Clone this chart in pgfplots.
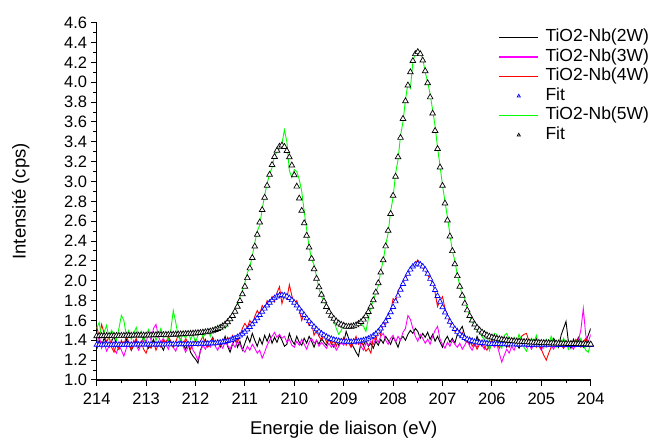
\documentclass[border=0pt]{standalone}
\usepackage{fontspec}
\setmainfont{Liberation Sans}
\usepackage{pgfplots}
\pgfplotsset{compat=1.18}
\definecolor{mygreen}{RGB}{0,255,0}
\definecolor{mymag}{RGB}{255,0,255}
\definecolor{myred}{RGB}{255,0,0}
\definecolor{myblue}{RGB}{0,0,255}
\pgfplotsset{
  lineleg/.style={legend image code/.code={\color{#1}\draw[##1, draw=#1, line width=1.5pt] (0pt,0pt) -- (39pt,0pt);}},
  markleg/.style={legend image code/.code={\color{#1}\draw[##1,only marks,mark size=1.8pt] plot coordinates {(19.5pt,0pt)};}},
}
\begin{document}
\begin{tikzpicture}[x=1pt,y=1pt]
\useasboundingbox (0,0) rectangle (655,441);
\begin{axis}[
  at={(96.7pt,61pt)}, anchor=south west,
  scale only axis, width=494pt, height=357.3pt,
  x dir=reverse, xmin=204, xmax=214, ymin=1.0, ymax=4.6,
  axis x line*=bottom, axis y line*=left,
  axis line style={line width=1.1pt},
  xtick={204,205,206,207,208,209,210,211,212,213,214},
  ytick={1,1.2,1.4,1.6,1.8,2,2.2,2.4,2.6,2.8,3,3.2,3.4,3.6,3.8,4,4.2,4.4,4.6},
  minor x tick num=1, minor y tick num=1,
  tick align=outside,
  major tick length=6pt, minor tick length=3.5pt,
  tick style={black, line width=1pt},
  /pgf/number format/assume math mode=true,
  yticklabel style={/pgf/number format/.cd, fixed, fixed zerofill, precision=1},
  xticklabel style={yshift=-3.5pt},
  tick label style={font=\fontsize{16.5}{18}\selectfont},
  xlabel={Energie de liaison (eV)},
  ylabel={Intensité (cps)},
  xlabel style={font=\fontsize{18.5}{21}\selectfont, at={(axis description cs:0.5,0)}, anchor=base, yshift=-54pt},
  ylabel style={font=\fontsize{18.5}{21}\selectfont, at={(axis description cs:-0.154,0.5)}, anchor=center},
  legend style={draw=none, fill=none, at={(axis description cs:0.813,0.9826)}, anchor=north west,
    font=\fontsize{17.5}{20}\selectfont, inner sep=0pt, row sep=2.7pt,
    nodes={inner xsep=3.5pt, inner ysep=0pt, text height=12.8pt, text depth=4pt},
    /tikz/every odd column/.append style={column sep=3pt}},
  legend cell align=left,
]
\addplot[color=black, line width=0.9pt, lineleg=black] coordinates {
(214,1.31)(213.95,1.40)(213.9,1.35)(213.85,1.42)(213.8,1.37)(213.75,1.33)(213.7,1.39)(213.65,1.44)(213.6,1.36)(213.55,1.31)(213.5,1.38)(213.45,1.34)(213.4,1.41)(213.35,1.36)(213.3,1.30)(213.25,1.35)(213.2,1.40)(213.15,1.33)(213.1,1.38)(213.05,1.43)(213,1.37)(212.95,1.32)(212.9,1.36)(212.85,1.41)(212.8,1.34)(212.75,1.39)(212.7,1.35)(212.65,1.30)(212.6,1.37)(212.55,1.42)(212.5,1.36)(212.45,1.33)(212.4,1.38)(212.35,1.34)(212.3,1.40)(212.25,1.36)(212.2,1.31)(212.15,1.37)(212.1,1.28)(212.05,1.24)(212,1.21)(211.95,1.17)(211.9,1.30)(211.85,1.36)(211.8,1.41)(211.75,1.34)(211.7,1.38)(211.65,1.43)(211.6,1.35)(211.55,1.40)(211.5,1.33)(211.45,1.38)(211.4,1.44)(211.35,1.34)(211.3,1.28)(211.25,1.36)(211.2,1.42)(211.15,1.33)(211.1,1.39)(211.05,1.30)(211,1.37)(210.95,1.44)(210.9,1.38)(210.85,1.47)(210.8,1.40)(210.75,1.34)(210.7,1.42)(210.65,1.36)(210.6,1.45)(210.55,1.39)(210.5,1.46)(210.45,1.37)(210.4,1.43)(210.35,1.38)(210.3,1.45)(210.25,1.40)(210.2,1.34)(210.15,1.36)(210.1,1.47)(210.05,1.40)(210,1.36)(209.95,1.44)(209.9,1.38)(209.85,1.35)(209.8,1.42)(209.75,1.37)(209.7,1.44)(209.65,1.39)(209.6,1.33)(209.55,1.40)(209.5,1.36)(209.45,1.42)(209.4,1.38)(209.35,1.35)(209.3,1.41)(209.25,1.37)(209.2,1.33)(209.15,1.39)(209.1,1.35)(209.05,1.41)(209,1.38)(208.95,1.49)(208.9,1.42)(208.85,1.37)(208.8,1.33)(208.75,1.28)(208.7,1.24)(208.65,1.38)(208.6,1.35)(208.55,1.40)(208.5,1.34)(208.45,1.37)(208.4,1.32)(208.35,1.39)(208.3,1.35)(208.25,1.41)(208.2,1.37)(208.15,1.44)(208.1,1.40)(208.05,1.36)(208,1.43)(207.95,1.39)(207.9,1.33)(207.85,1.41)(207.8,1.44)(207.75,1.40)(207.7,1.46)(207.65,1.50)(207.6,1.47)(207.55,1.52)(207.5,1.49)(207.45,1.42)(207.4,1.47)(207.35,1.43)(207.3,1.48)(207.25,1.41)(207.2,1.46)(207.15,1.39)(207.1,1.44)(207.05,1.38)(207,1.33)(206.95,1.40)(206.9,1.44)(206.85,1.38)(206.8,1.42)(206.75,1.37)(206.7,1.46)(206.65,1.50)(206.6,1.54)(206.55,1.45)(206.5,1.39)(206.45,1.36)(206.4,1.42)(206.35,1.35)(206.3,1.44)(206.25,1.38)(206.2,1.34)(206.15,1.40)(206.1,1.36)(206.05,1.31)(206,1.38)(205.95,1.34)(205.9,1.39)(205.85,1.35)(205.8,1.41)(205.75,1.37)(205.7,1.33)(205.65,1.38)(205.6,1.34)(205.55,1.40)(205.5,1.36)(205.45,1.32)(205.4,1.37)(205.35,1.41)(205.3,1.35)(205.25,1.39)(205.2,1.33)(205.15,1.37)(205.1,1.42)(205.05,1.36)(205,1.31)(204.95,1.37)(204.9,1.34)(204.85,1.40)(204.8,1.36)(204.75,1.42)(204.7,1.38)(204.65,1.33)(204.6,1.45)(204.55,1.52)(204.5,1.59)(204.45,1.38)(204.4,1.32)(204.35,1.41)(204.3,1.36)(204.25,1.43)(204.2,1.37)(204.15,1.33)(204.1,1.39)(204.05,1.45)(204,1.52)
};
\addlegendentry{TiO2-Nb(2W)}
\addplot[color=mymag, line width=0.9pt, lineleg=mymag] coordinates {
(214,1.36)(213.95,1.45)(213.9,1.32)(213.85,1.38)(213.8,1.29)(213.75,1.34)(213.7,1.40)(213.65,1.31)(213.6,1.27)(213.55,1.35)(213.5,1.30)(213.45,1.24)(213.4,1.32)(213.35,1.37)(213.3,1.33)(213.25,1.40)(213.2,1.35)(213.15,1.30)(213.1,1.36)(213.05,1.42)(213,1.38)(212.95,1.47)(212.9,1.40)(212.85,1.52)(212.8,1.56)(212.75,1.44)(212.7,1.38)(212.65,1.42)(212.6,1.36)(212.55,1.31)(212.5,1.38)(212.45,1.33)(212.4,1.29)(212.35,1.36)(212.3,1.41)(212.25,1.34)(212.2,1.28)(212.15,1.33)(212.1,1.38)(212.05,1.30)(212,1.26)(211.95,1.20)(211.9,1.29)(211.85,1.35)(211.8,1.31)(211.75,1.37)(211.7,1.33)(211.65,1.39)(211.6,1.34)(211.55,1.30)(211.5,1.36)(211.45,1.32)(211.4,1.38)(211.35,1.35)(211.3,1.31)(211.25,1.37)(211.2,1.33)(211.15,1.39)(211.1,1.35)(211.05,1.31)(211,1.28)(210.95,1.34)(210.9,1.30)(210.85,1.36)(210.8,1.32)(210.75,1.27)(210.7,1.30)(210.65,1.22)(210.6,1.28)(210.55,1.35)(210.5,1.40)(210.45,1.44)(210.4,1.48)(210.35,1.43)(210.3,1.46)(210.25,1.42)(210.2,1.44)(210.15,1.38)(210.1,1.41)(210.05,1.35)(210,1.33)(209.95,1.39)(209.9,1.35)(209.85,1.41)(209.8,1.36)(209.75,1.31)(209.7,1.38)(209.65,1.42)(209.6,1.37)(209.55,1.40)(209.5,1.34)(209.45,1.38)(209.4,1.35)(209.35,1.32)(209.3,1.37)(209.25,1.33)(209.2,1.36)(209.15,1.30)(209.1,1.34)(209.05,1.38)(209,1.35)(208.95,1.40)(208.9,1.37)(208.85,1.33)(208.8,1.39)(208.75,1.36)(208.7,1.41)(208.65,1.34)(208.6,1.30)(208.55,1.37)(208.5,1.35)(208.45,1.39)(208.4,1.36)(208.35,1.42)(208.3,1.38)(208.25,1.44)(208.2,1.47)(208.15,1.40)(208.1,1.36)(208.05,1.42)(208,1.45)(207.95,1.38)(207.9,1.44)(207.85,1.40)(207.8,1.48)(207.75,1.52)(207.7,1.65)(207.65,1.61)(207.6,1.52)(207.55,1.44)(207.5,1.39)(207.45,1.46)(207.4,1.42)(207.35,1.37)(207.3,1.41)(207.25,1.36)(207.2,1.44)(207.15,1.50)(207.1,1.54)(207.05,1.41)(207,1.36)(206.95,1.32)(206.9,1.38)(206.85,1.34)(206.8,1.40)(206.75,1.36)(206.7,1.33)(206.65,1.37)(206.6,1.31)(206.55,1.35)(206.5,1.40)(206.45,1.34)(206.4,1.30)(206.35,1.36)(206.3,1.33)(206.25,1.38)(206.2,1.35)(206.15,1.31)(206.1,1.37)(206.05,1.34)(206,1.39)(205.95,1.33)(205.9,1.36)(205.85,1.27)(205.8,1.18)(205.75,1.25)(205.7,1.31)(205.65,1.27)(205.6,1.34)(205.55,1.30)(205.5,1.37)(205.45,1.41)(205.4,1.35)(205.35,1.39)(205.3,1.33)(205.25,1.37)(205.2,1.31)(205.15,1.36)(205.1,1.40)(205.05,1.34)(205,1.30)(204.95,1.36)(204.9,1.33)(204.85,1.39)(204.8,1.35)(204.75,1.31)(204.7,1.37)(204.65,1.34)(204.6,1.38)(204.55,1.32)(204.5,1.36)(204.45,1.33)(204.4,1.35)(204.35,1.31)(204.3,1.36)(204.25,1.40)(204.2,1.50)(204.15,1.72)(204.1,1.45)(204.05,1.38)(204,1.46)
};
\addlegendentry{TiO2-Nb(3W)}
\addplot[color=myred, line width=0.9pt, lineleg=myred] coordinates {
(214,1.54)(213.95,1.43)(213.9,1.56)(213.85,1.47)(213.8,1.38)(213.75,1.44)(213.7,1.33)(213.65,1.28)(213.6,1.36)(213.55,1.31)(213.5,1.40)(213.45,1.35)(213.4,1.44)(213.35,1.38)(213.3,1.30)(213.25,1.36)(213.2,1.42)(213.15,1.34)(213.1,1.39)(213.05,1.31)(213,1.27)(212.95,1.35)(212.9,1.32)(212.85,1.38)(212.8,1.30)(212.75,1.36)(212.7,1.33)(212.65,1.41)(212.6,1.37)(212.55,1.44)(212.5,1.39)(212.45,1.33)(212.4,1.38)(212.35,1.46)(212.3,1.40)(212.25,1.35)(212.2,1.42)(212.15,1.37)(212.1,1.31)(212.05,1.36)(212,1.40)(211.95,1.34)(211.9,1.39)(211.85,1.44)(211.8,1.36)(211.75,1.33)(211.7,1.38)(211.65,1.42)(211.6,1.36)(211.55,1.40)(211.5,1.35)(211.45,1.41)(211.4,1.37)(211.35,1.43)(211.3,1.39)(211.25,1.45)(211.2,1.41)(211.15,1.38)(211.1,1.45)(211.05,1.52)(211,1.57)(210.95,1.53)(210.9,1.60)(210.85,1.56)(210.8,1.64)(210.75,1.70)(210.7,1.66)(210.65,1.75)(210.6,1.71)(210.55,1.80)(210.5,1.76)(210.45,1.84)(210.4,1.79)(210.35,1.88)(210.3,1.94)(210.25,1.77)(210.2,1.86)(210.15,1.82)(210.1,1.96)(210.05,1.85)(210,1.77)(209.95,1.80)(209.9,1.72)(209.85,1.60)(209.8,1.67)(209.75,1.62)(209.7,1.55)(209.65,1.58)(209.6,1.45)(209.55,1.50)(209.5,1.44)(209.45,1.40)(209.4,1.46)(209.35,1.38)(209.3,1.42)(209.25,1.36)(209.2,1.40)(209.15,1.34)(209.1,1.41)(209.05,1.37)(209,1.43)(208.95,1.35)(208.9,1.40)(208.85,1.33)(208.8,1.38)(208.75,1.44)(208.7,1.36)(208.65,1.40)(208.6,1.34)(208.55,1.29)(208.5,1.32)(208.45,1.27)(208.4,1.43)(208.35,1.40)(208.3,1.49)(208.25,1.45)(208.2,1.58)(208.15,1.56)(208.1,1.66)(208.05,1.69)(208,1.82)(207.95,1.79)(207.9,1.90)(207.85,1.94)(207.8,1.97)(207.75,2.04)(207.7,2.06)(207.65,2.12)(207.6,2.15)(207.55,2.17)(207.5,2.21)(207.45,2.17)(207.4,2.13)(207.35,2.10)(207.3,2.06)(207.25,2.01)(207.2,1.98)(207.15,1.88)(207.1,1.74)(207.05,1.80)(207,1.84)(206.95,1.72)(206.9,1.66)(206.85,1.57)(206.8,1.55)(206.75,1.49)(206.7,1.52)(206.65,1.44)(206.6,1.48)(206.55,1.40)(206.5,1.38)(206.45,1.43)(206.4,1.34)(206.35,1.37)(206.3,1.31)(206.25,1.36)(206.2,1.40)(206.15,1.33)(206.1,1.30)(206.05,1.36)(206,1.41)(205.95,1.35)(205.9,1.38)(205.85,1.32)(205.8,1.37)(205.75,1.42)(205.7,1.36)(205.65,1.33)(205.6,1.39)(205.55,1.35)(205.5,1.41)(205.45,1.37)(205.4,1.44)(205.35,1.46)(205.3,1.47)(205.25,1.39)(205.2,1.35)(205.15,1.40)(205.1,1.33)(205.05,1.37)(205,1.31)(204.95,1.25)(204.9,1.20)(204.85,1.27)(204.8,1.33)(204.75,1.38)(204.7,1.34)(204.65,1.40)(204.6,1.36)(204.55,1.32)(204.5,1.38)(204.45,1.34)(204.4,1.39)(204.35,1.35)(204.3,1.41)(204.25,1.37)(204.2,1.33)(204.15,1.38)(204.1,1.42)(204.05,1.36)(204,1.39)
};
\addlegendentry{TiO2-Nb(4W)}
\addplot[only marks, color=myblue, mark=triangle*, mark size=3pt, mark options={fill=white, draw=myblue, line width=0.7pt}, markleg=myblue] coordinates {
(214,1.355)(213.95,1.355)(213.9,1.355)(213.85,1.355)(213.8,1.355)(213.75,1.355)(213.7,1.355)(213.65,1.356)(213.6,1.356)(213.55,1.356)(213.5,1.356)(213.45,1.356)(213.4,1.356)(213.35,1.356)(213.3,1.356)(213.25,1.357)(213.2,1.357)(213.15,1.357)(213.1,1.357)(213.05,1.357)(213,1.357)(212.95,1.358)(212.9,1.358)(212.85,1.358)(212.8,1.358)(212.75,1.358)(212.7,1.358)(212.65,1.359)(212.6,1.359)(212.55,1.359)(212.5,1.359)(212.45,1.360)(212.4,1.360)(212.35,1.360)(212.3,1.360)(212.25,1.361)(212.2,1.361)(212.15,1.361)(212.1,1.361)(212.05,1.362)(212,1.362)(211.95,1.363)(211.9,1.364)(211.85,1.365)(211.8,1.366)(211.75,1.367)(211.7,1.368)(211.65,1.369)(211.6,1.371)(211.55,1.374)(211.5,1.378)(211.45,1.381)(211.4,1.386)(211.35,1.392)(211.3,1.400)(211.25,1.409)(211.2,1.420)(211.15,1.433)(211.1,1.448)(211.05,1.466)(211,1.486)(210.95,1.508)(210.9,1.534)(210.85,1.561)(210.8,1.591)(210.75,1.622)(210.7,1.654)(210.65,1.687)(210.6,1.719)(210.55,1.750)(210.5,1.779)(210.45,1.804)(210.4,1.825)(210.35,1.842)(210.3,1.852)(210.25,1.856)(210.2,1.852)(210.15,1.842)(210.1,1.826)(210.05,1.805)(210,1.779)(209.95,1.750)(209.9,1.720)(209.85,1.687)(209.8,1.655)(209.75,1.622)(209.7,1.592)(209.65,1.563)(209.6,1.536)(209.55,1.511)(209.5,1.488)(209.45,1.469)(209.4,1.452)(209.35,1.437)(209.3,1.425)(209.25,1.414)(209.2,1.406)(209.15,1.399)(209.1,1.394)(209.05,1.389)(209,1.387)(208.95,1.386)(208.9,1.385)(208.85,1.385)(208.8,1.386)(208.75,1.387)(208.7,1.390)(208.65,1.394)(208.6,1.400)(208.55,1.408)(208.5,1.417)(208.45,1.430)(208.4,1.446)(208.35,1.465)(208.3,1.490)(208.25,1.519)(208.2,1.552)(208.15,1.591)(208.1,1.635)(208.05,1.683)(208,1.736)(207.95,1.792)(207.9,1.850)(207.85,1.910)(207.8,1.968)(207.75,2.020)(207.7,2.070)(207.65,2.112)(207.6,2.144)(207.55,2.164)(207.5,2.171)(207.45,2.164)(207.4,2.144)(207.35,2.112)(207.3,2.070)(207.25,2.019)(207.2,1.966)(207.15,1.907)(207.1,1.847)(207.05,1.789)(207,1.733)(206.95,1.680)(206.9,1.631)(206.85,1.587)(206.8,1.548)(206.75,1.514)(206.7,1.485)(206.65,1.460)(206.6,1.440)(206.55,1.424)(206.5,1.411)(206.45,1.400)(206.4,1.392)(206.35,1.385)(206.3,1.380)(206.25,1.376)(206.2,1.373)(206.15,1.371)(206.1,1.369)(206.05,1.366)(206,1.364)(205.95,1.363)(205.9,1.362)(205.85,1.362)(205.8,1.361)(205.75,1.361)(205.7,1.360)(205.65,1.360)(205.6,1.359)(205.55,1.359)(205.5,1.358)(205.45,1.358)(205.4,1.358)(205.35,1.357)(205.3,1.357)(205.25,1.356)(205.2,1.356)(205.15,1.356)(205.1,1.356)(205.05,1.355)(205,1.355)(204.95,1.355)(204.9,1.355)(204.85,1.354)(204.8,1.354)(204.75,1.354)(204.7,1.354)(204.65,1.353)(204.6,1.353)(204.55,1.353)(204.5,1.353)(204.45,1.353)(204.4,1.353)(204.35,1.352)(204.3,1.352)(204.25,1.352)(204.2,1.352)(204.15,1.352)(204.1,1.352)(204.05,1.352)(204,1.352)
};
\addlegendentry{Fit}
\addplot[color=mygreen, line width=0.9pt, lineleg=mygreen] coordinates {
(214,1.52)(213.95,1.58)(213.9,1.43)(213.85,1.48)(213.8,1.55)(213.75,1.42)(213.7,1.50)(213.65,1.46)(213.6,1.40)(213.55,1.52)(213.5,1.65)(213.45,1.60)(213.4,1.45)(213.35,1.50)(213.3,1.41)(213.25,1.47)(213.2,1.53)(213.15,1.44)(213.1,1.49)(213.05,1.38)(213,1.46)(212.95,1.51)(212.9,1.43)(212.85,1.48)(212.8,1.40)(212.75,1.45)(212.7,1.52)(212.65,1.42)(212.6,1.47)(212.55,1.39)(212.5,1.50)(212.45,1.70)(212.4,1.58)(212.35,1.44)(212.3,1.40)(212.25,1.47)(212.2,1.42)(212.15,1.49)(212.1,1.41)(212.05,1.46)(212,1.38)(211.95,1.45)(211.9,1.50)(211.85,1.43)(211.8,1.47)(211.75,1.51)(211.7,1.44)(211.65,1.52)(211.6,1.48)(211.55,1.55)(211.5,1.50)(211.45,1.56)(211.4,1.52)(211.35,1.56)(211.3,1.60)(211.25,1.66)(211.2,1.72)(211.15,1.74)(211.1,1.84)(211.05,1.90)(211,1.98)(210.95,2.08)(210.9,2.14)(210.85,2.25)(210.8,2.38)(210.75,2.50)(210.7,2.56)(210.65,2.72)(210.6,2.86)(210.55,2.98)(210.5,3.08)(210.45,3.14)(210.4,3.26)(210.35,3.30)(210.3,3.33)(210.25,3.38)(210.2,3.52)(210.15,3.40)(210.1,3.11)(210.05,3.04)(210,3.12)(209.95,3.10)(209.9,3.02)(209.85,2.90)(209.8,2.70)(209.75,2.52)(209.7,2.34)(209.65,2.22)(209.6,2.16)(209.55,2.04)(209.5,1.92)(209.45,1.84)(209.4,1.80)(209.35,1.74)(209.3,1.72)(209.25,1.66)(209.2,1.60)(209.15,1.52)(209.1,1.46)(209.05,1.50)(209,1.56)(208.95,1.55)(208.9,1.53)(208.85,1.55)(208.8,1.52)(208.75,1.56)(208.7,1.58)(208.65,1.57)(208.6,1.54)(208.55,1.49)(208.5,1.62)(208.45,1.74)(208.4,1.80)(208.35,1.88)(208.3,1.95)(208.25,2.10)(208.2,2.20)(208.15,2.36)(208.1,2.48)(208.05,2.70)(208,2.84)(207.95,3.08)(207.9,3.22)(207.85,3.46)(207.8,3.60)(207.75,3.82)(207.7,3.99)(207.65,3.94)(207.6,4.20)(207.55,4.30)(207.5,4.33)(207.45,4.28)(207.4,4.24)(207.35,4.10)(207.3,4.00)(207.25,3.88)(207.2,3.72)(207.15,3.56)(207.1,3.34)(207.05,3.16)(207,2.96)(206.95,2.80)(206.9,2.64)(206.85,2.47)(206.8,2.30)(206.75,2.20)(206.7,2.06)(206.65,1.95)(206.6,1.86)(206.55,1.82)(206.5,1.72)(206.45,1.65)(206.4,1.58)(206.35,1.57)(206.3,1.50)(206.25,1.48)(206.2,1.44)(206.15,1.40)(206.1,1.46)(206.05,1.30)(206,1.40)(205.95,1.47)(205.9,1.46)(205.85,1.36)(205.8,1.32)(205.75,1.45)(205.7,1.47)(205.65,1.41)(205.6,1.35)(205.55,1.43)(205.5,1.38)(205.45,1.46)(205.4,1.40)(205.35,1.33)(205.3,1.29)(205.25,1.36)(205.2,1.42)(205.15,1.38)(205.1,1.45)(205.05,1.34)(205,1.39)(204.95,1.32)(204.9,1.41)(204.85,1.36)(204.8,1.44)(204.75,1.38)(204.7,1.33)(204.65,1.40)(204.6,1.35)(204.55,1.42)(204.5,1.37)(204.45,1.31)(204.4,1.39)(204.35,1.34)(204.3,1.40)(204.25,1.36)(204.2,1.42)(204.15,1.35)(204.1,1.30)(204.05,1.28)(204,1.37)
};
\addlegendentry{TiO2-Nb(5W)}
\addplot[only marks, color=black, mark=triangle*, mark size=3.3pt, mark options={fill=white, draw=black, line width=0.7pt}, markleg=black] coordinates {
(214,1.443)(213.95,1.443)(213.9,1.444)(213.85,1.444)(213.8,1.445)(213.75,1.445)(213.7,1.445)(213.65,1.446)(213.6,1.446)(213.55,1.446)(213.5,1.446)(213.45,1.447)(213.4,1.447)(213.35,1.448)(213.3,1.448)(213.25,1.449)(213.2,1.449)(213.15,1.449)(213.1,1.450)(213.05,1.450)(213,1.450)(212.95,1.451)(212.9,1.451)(212.85,1.452)(212.8,1.453)(212.75,1.454)(212.7,1.454)(212.65,1.455)(212.6,1.456)(212.55,1.456)(212.5,1.457)(212.45,1.458)(212.4,1.459)(212.35,1.460)(212.3,1.462)(212.25,1.463)(212.2,1.464)(212.15,1.466)(212.1,1.467)(212.05,1.469)(212,1.471)(211.95,1.474)(211.9,1.476)(211.85,1.479)(211.8,1.483)(211.75,1.487)(211.7,1.491)(211.65,1.497)(211.6,1.506)(211.55,1.515)(211.5,1.528)(211.45,1.543)(211.4,1.561)(211.35,1.584)(211.3,1.613)(211.25,1.647)(211.2,1.690)(211.15,1.739)(211.1,1.797)(211.05,1.865)(211,1.942)(210.95,2.028)(210.9,2.126)(210.85,2.231)(210.8,2.346)(210.75,2.464)(210.7,2.589)(210.65,2.714)(210.6,2.838)(210.55,2.958)(210.5,3.069)(210.45,3.168)(210.4,3.249)(210.35,3.312)(210.3,3.352)(210.25,3.364)(210.2,3.350)(210.15,3.308)(210.1,3.245)(210.05,3.163)(210,3.064)(209.95,2.950)(209.9,2.830)(209.85,2.706)(209.8,2.580)(209.75,2.455)(209.7,2.336)(209.65,2.223)(209.6,2.118)(209.55,2.022)(209.5,1.936)(209.45,1.860)(209.4,1.794)(209.35,1.738)(209.3,1.688)(209.25,1.649)(209.2,1.618)(209.15,1.591)(209.1,1.571)(209.05,1.558)(209,1.548)(208.95,1.539)(208.9,1.538)(208.85,1.539)(208.8,1.543)(208.75,1.552)(208.7,1.567)(208.65,1.585)(208.6,1.610)(208.55,1.644)(208.5,1.686)(208.45,1.739)(208.4,1.805)(208.35,1.883)(208.3,1.977)(208.25,2.084)(208.2,2.208)(208.15,2.348)(208.1,2.505)(208.05,2.675)(208,2.858)(207.95,3.050)(207.9,3.246)(207.85,3.441)(207.8,3.632)(207.75,3.810)(207.7,3.969)(207.65,4.102)(207.6,4.215)(207.55,4.285)(207.5,4.305)(207.45,4.285)(207.4,4.220)(207.35,4.113)(207.3,3.992)(207.25,3.849)(207.2,3.686)(207.15,3.511)(207.1,3.329)(207.05,3.143)(207,2.958)(206.95,2.780)(206.9,2.609)(206.85,2.448)(206.8,2.300)(206.75,2.167)(206.7,2.048)(206.65,1.942)(206.6,1.851)(206.55,1.771)(206.5,1.703)(206.45,1.646)(206.4,1.600)(206.35,1.560)(206.3,1.528)(206.25,1.501)(206.2,1.480)(206.15,1.463)(206.1,1.450)(206.05,1.438)(206,1.430)(205.95,1.423)(205.9,1.417)(205.85,1.412)(205.8,1.407)(205.75,1.403)(205.7,1.400)(205.65,1.397)(205.6,1.395)(205.55,1.391)(205.5,1.389)(205.45,1.388)(205.4,1.386)(205.35,1.384)(205.3,1.383)(205.25,1.381)(205.2,1.379)(205.15,1.378)(205.1,1.377)(205.05,1.376)(205,1.375)(204.95,1.373)(204.9,1.372)(204.85,1.372)(204.8,1.371)(204.75,1.370)(204.7,1.369)(204.65,1.368)(204.6,1.367)(204.55,1.366)(204.5,1.366)(204.45,1.365)(204.4,1.365)(204.35,1.364)(204.3,1.364)(204.25,1.363)(204.2,1.362)(204.15,1.362)(204.1,1.361)(204.05,1.360)(204,1.360)
};
\addlegendentry{Fit}
\end{axis}
\end{tikzpicture}
\end{document}
